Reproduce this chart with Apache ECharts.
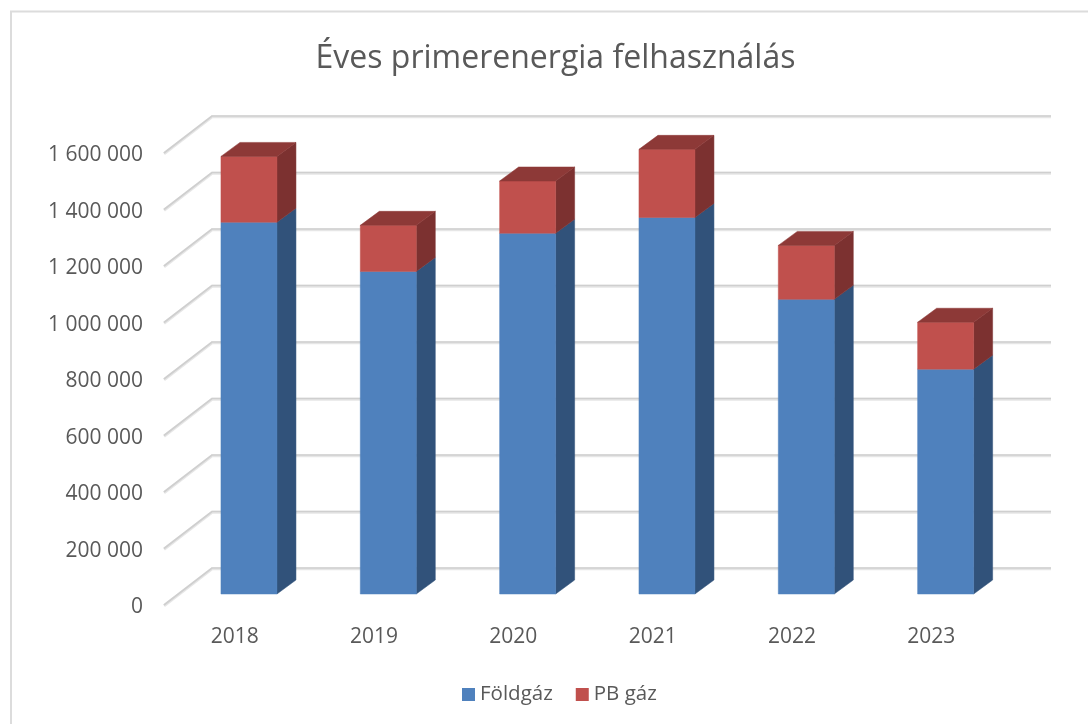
<!DOCTYPE html>
<html><head><meta charset="utf-8">
<style>html,body{margin:0;padding:0;background:#fff}#c{width:1088px;height:724px}</style>
<script src="https://cdn.jsdelivr.net/npm/echarts@6/dist/echarts.min.js"></script>
</head><body><div id="c"></div>
<script>
const categories = ['2018','2019','2020','2021','2022','2023'];
const foldgaz = [1316000,1142000,1277000,1333000,1043000,796000];
const pbgaz = [233000,163000,185000,241000,191000,166000];
const ticks = [0,200000,400000,600000,800000,1000000,1200000,1400000,1600000];
const font = '"Open Sans"';
const chart = echarts.init(document.getElementById('c'));

const WALL_DX = 48, WALL_DY = -37;      // floor depth, in pixels
const BAR_W = 56, BAR_DX = 19, BAR_DY = -14, BAR_OFF_X = 15.3, BAR_OFF_Y = -11;

function poly(points, fill){
  return {type:'polygon', shape:{points}, style:{fill, stroke:fill, lineWidth:0.5}};
}
function barRender(front, side, top){
  return function(params, api){
    const i = api.value(0);
    const a = api.coord([i, api.value(1)]);
    const b = api.coord([i, api.value(2)]);
    const xl = a[0] + BAR_OFF_X - BAR_W/2, xr = xl + BAR_W;
    const y0 = a[1] + BAR_OFF_Y, y1 = b[1] + BAR_OFF_Y;
    const kids = [
      poly([[xr,y0],[xr+BAR_DX,y0+BAR_DY],[xr+BAR_DX,y1+BAR_DY],[xr,y1]], side),
      poly([[xl,y0],[xr,y0],[xr,y1],[xl,y1]], front)
    ];
    if (top) kids.push(poly([[xl,y1],[xr,y1],[xr+BAR_DX,y1+BAR_DY],[xl+BAR_DX,y1+BAR_DY]], top));
    return {type:'group', children:kids};
  };
}
function gridRender(params, api){
  const v = api.value(0);
  const grid = params.coordSys;
  const y = api.coord([0, v])[1];
  const l = grid.x, r = grid.x + grid.width;
  return {type:'group', children:[
    {type:'polyline', shape:{points:[[l,y+0.8],[l+WALL_DX,y+WALL_DY+0.8],[r+WALL_DX+3,y+WALL_DY+0.8]]},
      style:{stroke:'#e6e6e6', lineWidth:3, fill:'none'}},
    {type:'polyline', shape:{points:[[l,y],[l+WALL_DX,y+WALL_DY],[r+WALL_DX+3,y+WALL_DY]]},
      style:{stroke:'#cfcfcf', lineWidth:1.6, fill:'none'}}
  ]};
}
chart.setOption({
  animation:false,
  backgroundColor:'#fff',
  textStyle:{fontFamily:font},
  title:{text:'Éves primerenergia felhasználás', left:550.5, top:38, textAlign:'center',
    textStyle:{fontFamily:font, fontSize:32, fontWeight:'normal', color:'#595959'}},
  graphic:[{type:'rect', silent:true, z:-1, shape:{x:11,y:11.5,width:1100,height:800},
    style:{fill:'none', stroke:'#dcdcdc', lineWidth:2}}],
  legend:{top:684, left:462, padding:0, itemWidth:13, itemHeight:13, itemGap:23, icon:'rect',
    selectedMode:false, data:['Földgáz','PB gáz'],
    textStyle:{fontFamily:font, fontSize:20.5, color:'#595959'}},
  grid:{left:164, top:153, width:836, height:452},
  xAxis:{type:'category', data:categories, axisLine:{show:false}, axisTick:{show:false},
    axisLabel:{margin:22, padding:[0,0,0,2], fontFamily:font, fontSize:21, color:'#595959'}},
  yAxis:{type:'value', min:0, max:1600000, interval:200000,
    axisLine:{show:false}, axisTick:{show:false}, splitLine:{show:false},
    axisLabel:{margin:21, fontFamily:font, fontSize:21, color:'#595959',
      rich:{t:{fontFamily:font, fontSize:21, color:'#595959', padding:[5,0,0,0]}},
      formatter:v=>'{t|'+String(v).replace(/\B(?=(\d{3})+$)/g,' ')+'}'}},
  series:[
    {type:'custom', name:'grid', silent:true, z:1, renderItem:gridRender, data:ticks.map(t=>[t]),
      encode:{y:0}, clip:false, legendHoverLink:false},
    {type:'custom', name:'Földgáz', z:2, clip:false, itemStyle:{color:'#4F81BD'},
      renderItem:barRender('#4F81BD','#31527A',null),
      encode:{x:0,y:2}, data:foldgaz.map((v,i)=>[i,0,v])},
    {type:'custom', name:'PB gáz', z:3, clip:false, itemStyle:{color:'#C0504D'},
      renderItem:barRender('#C0504D','#7C3130','#8D3937'),
      encode:{x:0,y:2}, data:pbgaz.map((v,i)=>[i,foldgaz[i],foldgaz[i]+v])}
  ]
});
</script></body></html>
